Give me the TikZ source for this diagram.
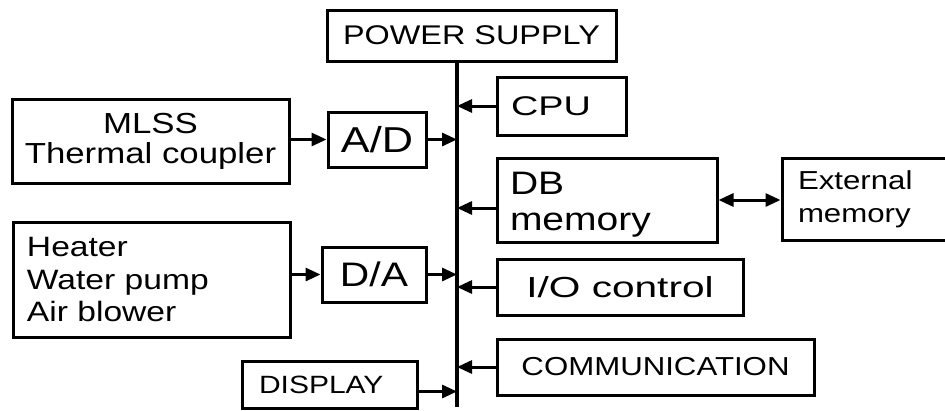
\documentclass[tikz,border=0pt]{standalone}
\usepackage{fontspec}
\setmainfont{Liberation Sans}
\newfontfamily\fA{Liberation Sans}[FakeStretch=1.2]
\newfontfamily\fB{Liberation Sans}[FakeStretch=1.4]
\usetikzlibrary{arrows.meta,calc}
\tikzset{
  box/.style={draw, line width=3pt, inner sep=0pt, anchor=center},
  arr/.style={line width=3pt, -{Triangle[length=15pt,width=13pt]}},
  darr/.style={line width=3pt, {Triangle[length=15pt,width=13pt]}-{Triangle[length=15pt,width=13pt]}},
  busline/.style={line width=3.2pt}
}
\begin{document}
\begin{tikzpicture}[x=1pt,y=-1pt]
\clip (0,0) rectangle (945,410);
\useasboundingbox (0,0) rectangle (945,410);
\fill[white] (0,0) rectangle (945,410);

\node[box, minimum width=289pt, minimum height=51pt, font={\fA\fontsize{27}{32}\selectfont}] (ps) at (471.5,35.5) {POWER SUPPLY};

\node[box, minimum width=277pt, minimum height=84pt, align=center, font={\fA\fontsize{29}{30}\selectfont}] (mlss) at (150.5,141) {MLSS\\Thermal coupler};
\node[box, minimum width=98pt, minimum height=55pt, font={\fA\fontsize{36}{40}\selectfont}] (ad) at (377,139.5) {A/D};

\node[box, minimum width=277pt, minimum height=115pt, inner xsep=14pt, text width=249pt, align=left, font={\fA\fontsize{28}{33}\selectfont}] (heat) at (151.5,279.5) {Heater\\Water pump\\Air blower};
\node[box, minimum width=104pt, minimum height=55pt, font={\fA\fontsize{34}{38}\selectfont}] (da) at (374,274.5) {D/A};

\node[box, minimum width=175pt, minimum height=47pt, inner xsep=17pt, text width=141pt, align=left, font={\fA\fontsize{25}{30}\selectfont}] (disp) at (329.5,384.5) {DISPLAY};

\node[box, minimum width=129pt, minimum height=58pt, inner xsep=14pt, text width=101pt, align=left, font={\fB\fontsize{27}{32}\selectfont}] (cpu) at (561.5,106) {CPU};
\node[box, minimum width=220pt, minimum height=84pt, inner xsep=13pt, text width=194pt, text height=31pt, align=left, font={\fA\fontsize{32.5}{36}\selectfont}] (db) at (607,200) {DB\\memory};
\node[box, minimum width=180pt, minimum height=82pt, inner xsep=16pt, text width=148pt, align=left, font={\fA\fontsize{26}{33}\selectfont}] (ext) at (872,199) {External\\memory};
\node[box, minimum width=246pt, minimum height=56pt, font={\fB\fontsize{29}{34}\selectfont}] (io) at (620,287) {I/O control};
\node[box, minimum width=317pt, minimum height=56pt, font={\fA\fontsize{26}{31}\selectfont}] (com) at (655.5,367) {COMMUNICATION};

\coordinate (busT) at (457,61);
\coordinate (busB) at (457,407);
\draw[busline] (busT) -- (busB);

\draw[arr] (mlss.east |- ad.west) -- (ad.west);
\draw[arr] (ad.east) -- (ad.east -| busT);
\draw[arr] (heat.east |- da.west) -- (da.west);
\draw[arr] (da.east) -- (da.east -| busT);
\draw[arr] ($(disp.east)+(0,7)$) -- ($(disp.east -| busT)+(0,7)$);
\draw[arr] (cpu.west) -- (cpu.west -| busT);
\draw[arr] ($(db.west)+(0,8)$) -- ($(db.west -| busT)+(0,8)$);
\draw[arr] (io.west) -- (io.west -| busT);
\draw[arr] (com.west) -- (com.west -| busT);
\draw[darr] (db.east) -- (ext.west |- db.east);
\end{tikzpicture}
\end{document}
